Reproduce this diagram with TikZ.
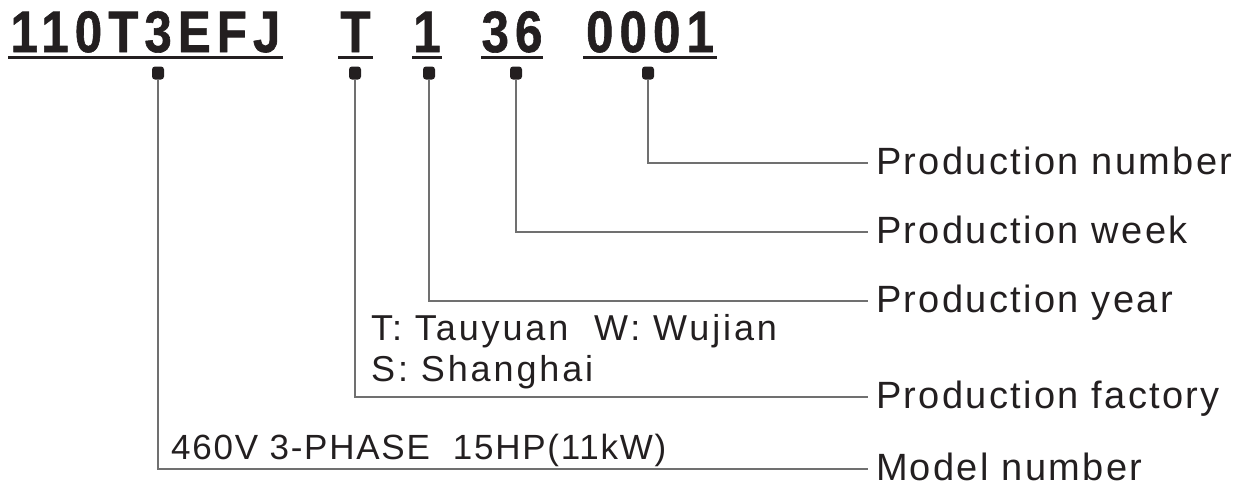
\documentclass[tikz,border=0pt]{standalone}
\usepackage{fontspec}
\setmainfont{Liberation Sans}
\newfontfamily\codefont[LetterSpace=10.5,FakeStretch=0.84,FakeBold=1]{Liberation Sans Bold}
\newfontfamily\labfont[LetterSpace=6.2]{Liberation Sans}
\newfontfamily\notefont[LetterSpace=8]{Liberation Sans}
\newfontfamily\specfont[LetterSpace=5]{Liberation Sans}
\definecolor{ink}{RGB}{35,31,32}
\definecolor{wire}{RGB}{112,112,112}
\begin{document}
\begin{tikzpicture}[x=1pt,y=-1pt,
  code/.style={font=\codefont\fontsize{58.5}{58.5}\selectfont, text=ink,
    inner xsep=0pt, inner ysep=0pt, text depth=0pt, anchor=base},
  uline/.style={draw=ink, line width=3pt},
  dotn/.style={rounded corners=3pt, rectangle, fill=ink, minimum width=12pt, minimum height=13pt, inner sep=0pt},
  lab/.style={font=\labfont\fontsize{38}{38}\selectfont, text=ink, anchor=base west,
    inner xsep=0pt, inner ysep=0pt, outer xsep=8pt, outer ysep=0pt,
    text height=22pt, text depth=0pt},
  note/.style={font=\notefont\fontsize{36}{36}\selectfont, text=ink, anchor=base west, inner sep=0pt},
  spec/.style={font=\specfont\fontsize{35}{35}\selectfont, text=ink, anchor=base west, inner sep=0pt},
  wireline/.style={draw=wire, line width=1.6pt}
]
\useasboundingbox (0,0) rectangle (1255,488);

% code groups
\node[code] (g1) at (145.5,52) {110T3EFJ};
\node[code] (g2) at (355.5,52) {T};
\node[code] (g3) at (427,52) {1};
\node[code] (g4) at (512,52) {36};
\node[code] (g5) at (650,52) {0001};
\foreach \g/\a/\b in {g1/8/283, g2/338/373, g3/412/442, g4/481/543, g5/583/717}
  \draw[uline] (\a,57.5) -- (\b,57.5);

% labels
\node[lab] (l5) at (868,174) {Production number};
\node[lab] (l4) at (868,243) {Production week};
\node[lab] (l3) at (868,312) {Production year};
\node[lab] (l2) at (868,408) {Production factory};
\node[lab] (l1) at (868,480) {Model number};

% notes
\node[note] (n1) at (371,340) {T: Tauyuan\ \ W: Wujian};
\node[note] (n2) at (371,381) {S: Shanghai};
\node[spec] (s1) at (171,459) {460V 3-PHASE\ \ 15HP(11kW)};

% connectors
\node[dotn] (d1) at (158,73) {};
\node[dotn] (d2) at (355,73) {};
\node[dotn] (d3) at (429,73) {};
\node[dotn] (d4) at (516,73) {};
\node[dotn] (d5) at (648,73) {};
\draw[wireline] (d1) |- (l1.west);
\draw[wireline] (d2) |- (l2.west);
\draw[wireline] (d3) |- (l3.west);
\draw[wireline] (d4) |- (l4.west);
\draw[wireline] (d5) |- (l5.west);
\end{tikzpicture}
\end{document}
